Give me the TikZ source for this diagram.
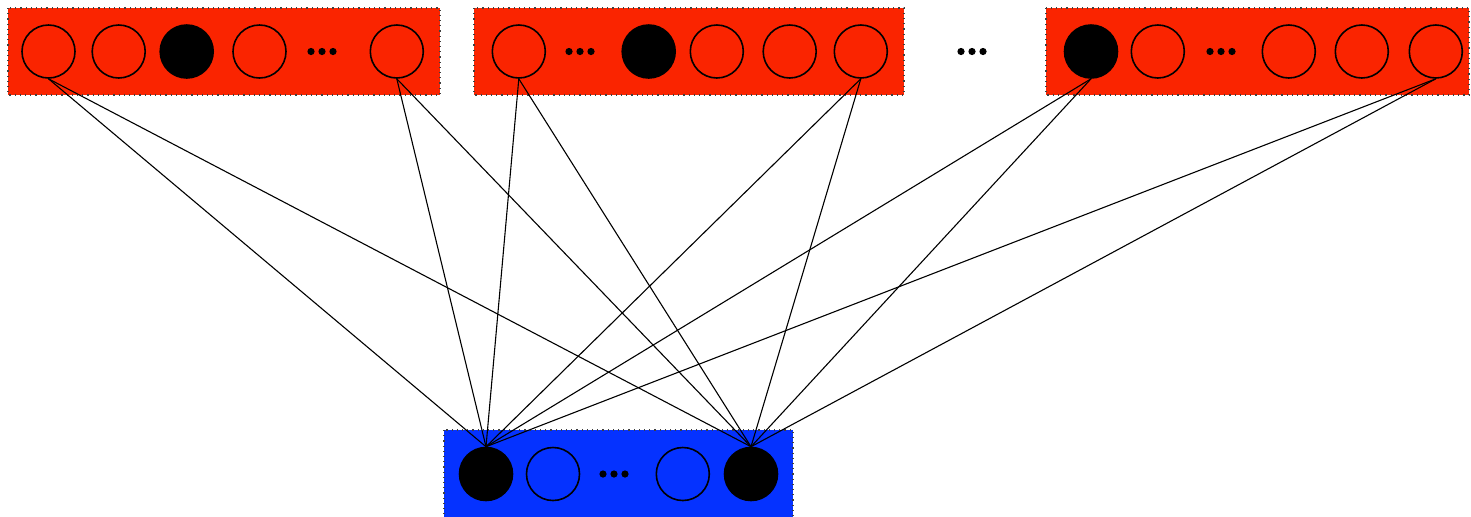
\documentclass[tikz,border=0pt]{standalone}
\definecolor{boxred}{RGB}{250,36,0}
\definecolor{boxblue}{RGB}{5,50,255}
\tikzset{
  redbox/.style={fill=boxred,draw=black!75,dotted,line width=0.6pt},
  bluebox/.style={fill=boxblue,draw=black!75,dotted,line width=0.6pt},
  unit/.style={circle,draw=black,line width=0.8pt,minimum size=26.5pt,inner sep=0pt},
  active/.style={unit,fill=black},
  dotnode/.style={circle,fill=black,minimum size=3.6pt,inner sep=0pt},
  link/.style={draw=black,line width=0.55pt}
}
\begin{document}
\begin{tikzpicture}[x=0.5pt,y=-0.5pt]
\useasboundingbox (0,0) rectangle (1471,516);
% boxes
\path[redbox] (8,8) rectangle (440,95);
\path[redbox] (474,8) rectangle (904,95);
\path[redbox] (1046,8) rectangle (1469,95);
\path[bluebox] (444,430) rectangle (793,530);
% box 1
\node[unit] (a1) at (48.5,51.5) {};
\node[unit] (a2) at (118.7,51.5) {};
\node[active] (a3) at (186.7,51.5) {};
\node[unit] (a4) at (259.5,51.5) {};
\node[dotnode] (ad1) at (311,51.5) {};
\node[dotnode] (ad2) at (322,51.5) {};
\node[dotnode] (ad3) at (333,51.5) {};
\node[unit] (a5) at (396.8,51.5) {};
% box 2
\node[unit] (b1) at (518.8,51.5) {};
\node[dotnode] (bd1) at (569,51.5) {};
\node[dotnode] (bd2) at (580,51.5) {};
\node[dotnode] (bd3) at (591,51.5) {};
\node[active] (b2) at (648.7,51.5) {};
\node[unit] (b3) at (716.8,51.5) {};
\node[unit] (b4) at (789.7,51.5) {};
\node[unit] (b5) at (860.8,51.5) {};
% middle dots
\node[dotnode] (md1) at (961,51.5) {};
\node[dotnode] (md2) at (972,51.5) {};
\node[dotnode] (md3) at (983,51.5) {};
% box 3
\node[active] (c1) at (1091,51.5) {};
\node[unit] (c2) at (1157.8,51.5) {};
\node[dotnode] (cd1) at (1210,51.5) {};
\node[dotnode] (cd2) at (1221,51.5) {};
\node[dotnode] (cd3) at (1232,51.5) {};
\node[unit] (c3) at (1288.8,51.5) {};
\node[unit] (c4) at (1361.8,51.5) {};
\node[unit] (c5) at (1435.8,51.5) {};
% blue box
\node[active] (o1) at (486,474) {};
\node[unit] (o2) at (553,474) {};
\node[dotnode] (od1) at (603,474) {};
\node[dotnode] (od2) at (614,474) {};
\node[dotnode] (od3) at (625,474) {};
\node[unit] (o3) at (682.8,474) {};
\node[active] (o4) at (751,474) {};
% links
\foreach \s in {a1,a5,b1,b5,c1,c5}{
  \foreach \t in {o1,o4}{
    \draw[link] (\s.south) -- (\t.north);
  }
}
\end{tikzpicture}
\end{document}
